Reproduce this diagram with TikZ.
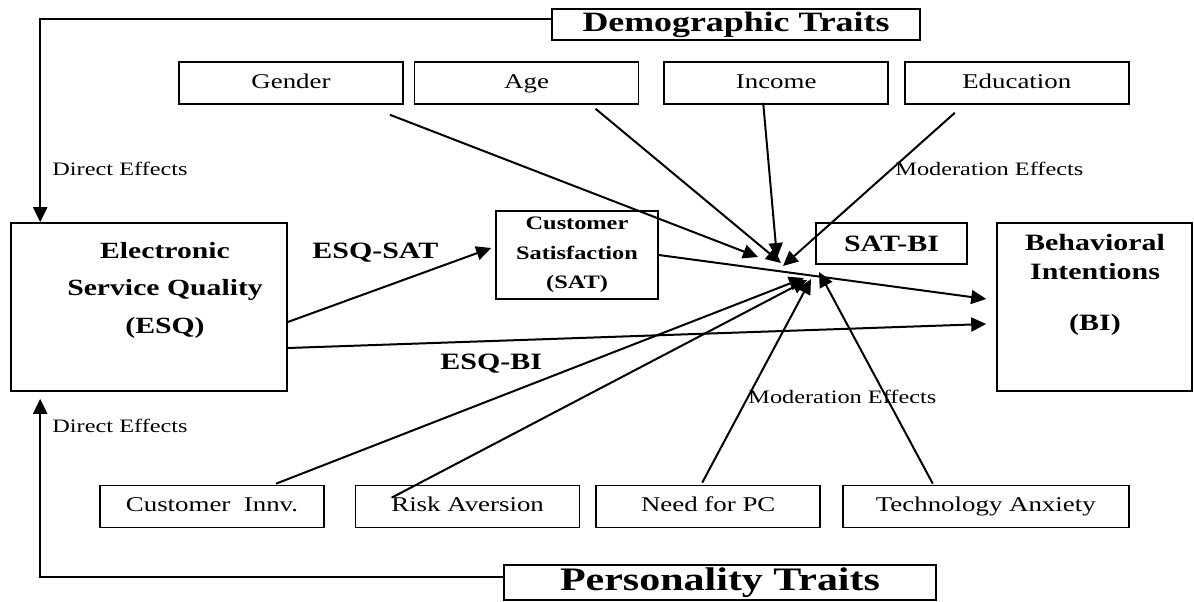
\documentclass[tikz,border=0pt]{standalone}
\usepackage{fontspec}
\setmainfont{Liberation Serif}[FakeStretch=1.28]
\usetikzlibrary{arrows.meta,calc,positioning}

\begin{document}
\begin{tikzpicture}[
x=0.5pt, y=-0.5pt,
>={Triangle[length=7.5pt,width=7pt]},
box/.style={draw, line width=0.8pt, inner sep=0pt, minimum width=112pt, minimum height=21pt, text height=7.5pt, text depth=2.2pt, font=\fontsize{10.5}{12}\selectfont},
bigbox/.style={draw, line width=0.8pt, inner sep=0pt},
traitbox/.style={draw, line width=0.8pt, inner sep=0pt, font=\bfseries\fontsize{14}{15}\selectfont},
effect/.style={anchor=west, inner sep=0pt, font=\fontsize{9.5}{11}\selectfont},
pathlbl/.style={anchor=west, inner sep=0pt, font=\bfseries\fontsize{11.7}{14}\selectfont}
]
\useasboundingbox (0,0) rectangle (1194,601);

\node (demo) [traitbox, minimum width=184pt, minimum height=15.5pt] at (736,24.5) {Demographic Traits};
\node (pers) [traitbox, minimum width=216pt, minimum height=17.5pt, font=\bfseries\fontsize{16.4}{18}\selectfont] at (720,582.5) {Personality Traits};

\node (gender) [box] at (291,83) {Gender};
\node (age) [box, right=5pt of gender] {Age};
\node (income) [box, right=12pt of age] {Income};
\node (edu) [box, right=7.5pt of income] {Education};

\node (innv) [box] at (212,506.5) {Customer~~Innv.};
\node (risk) [box, right=15pt of innv] {Risk Aversion};
\node (needpc) [box, right=7.5pt of risk] {Need for PC};
\node (techanx) [box, minimum width=143pt, right=10.5pt of needpc] {Technology Anxiety};

\node (esq) [bigbox, minimum width=138pt, minimum height=84pt] at (149,307) {};
\node (esqtext) [align=center, font=\bfseries\fontsize{11.6}{18.75}\selectfont] at (165,290) {Electronic\\Service Quality\\(ESQ)};
\node (sat) [bigbox, minimum width=81pt, minimum height=44pt, align=center, font=\bfseries\fontsize{9.5}{14.75}\selectfont] at (577,255) {Customer\\Satisfaction\\(SAT)};
\node (satbi) [bigbox, minimum width=75.5pt, minimum height=20.5pt, font=\bfseries\fontsize{11.7}{14}\selectfont] at (891.5,243.5) {SAT-BI};
\node (bi) [bigbox, minimum width=97.5pt, minimum height=84pt] at (1094.5,307) {};
\node (bitext) [align=center, font=\bfseries\fontsize{11.7}{14.5}\selectfont] at (1095,285) {Behavioral\\Intentions\\[11pt](BI)};

\node (desq) [effect] at (52,169) {Direct Effects};
\node (dpers) [effect] at (52,426) {Direct Effects};
\node (mdemo) [effect] at (895,169) {Moderation Effects};
\node (mpers) [effect] at (748,397) {Moderation Effects};
\node (lsat) [pathlbl] at (312,253) {ESQ-SAT};
\node (lbi) [pathlbl] at (440,364) {ESQ-BI};

\coordinate (tgender) at (758,257);
\coordinate (tage) at (781,263);
\coordinate (tincome) at (777,258);
\coordinate (tedu) at (783,266);
\coordinate (tinnv) at (804,278);
\coordinate (trisk) at (807,280);
\coordinate (tneed) at (811,279);
\coordinate (tanx) at (819,272);

\draw[->, line width=1.1pt] ($(demo.west)+(0,-5.5)$) -| ($(esq.north west)+(30,0)$);
\draw[->, line width=1.1pt] ($(pers.west)+(0,-5.5)$) -| ($(esq.south west)+(30,7)$);

\draw[->, line width=1pt] ($(esq.east)+(0,15)$) -- ($(sat.west)+(-4,-7)$);
\draw[->, line width=1pt] ($(esq.east)+(0,41)$) -- ($(bi.west)+(-10,17)$);
\draw[->, line width=1pt] (sat.east) -- ($(bi.west)+(-10,-8)$);

\draw[->, line width=1pt] ($(gender.south)+(99,10)$) -- (tgender);
\draw[->, line width=1pt] ($(age.south)+(69,4)$) -- (tage);
\draw[->, line width=1pt] ($(income.south)+(-13,-2)$) -- (tincome);
\draw[->, line width=1pt] ($(edu.south)+(-62,8)$) -- (tedu);
\draw[->, line width=1pt] ($(innv.north)+(64,-1)$) -- (tinnv);
\draw[->, line width=1pt] ($(risk.north)+(-76,13)$) -- (trisk);
\draw[->, line width=1pt] ($(needpc.north)+(-6,-2)$) -- (tneed);
\draw[->, line width=1pt] ($(techanx.north)+(-53,-1)$) -- (tanx);
\end{tikzpicture}
\end{document}
